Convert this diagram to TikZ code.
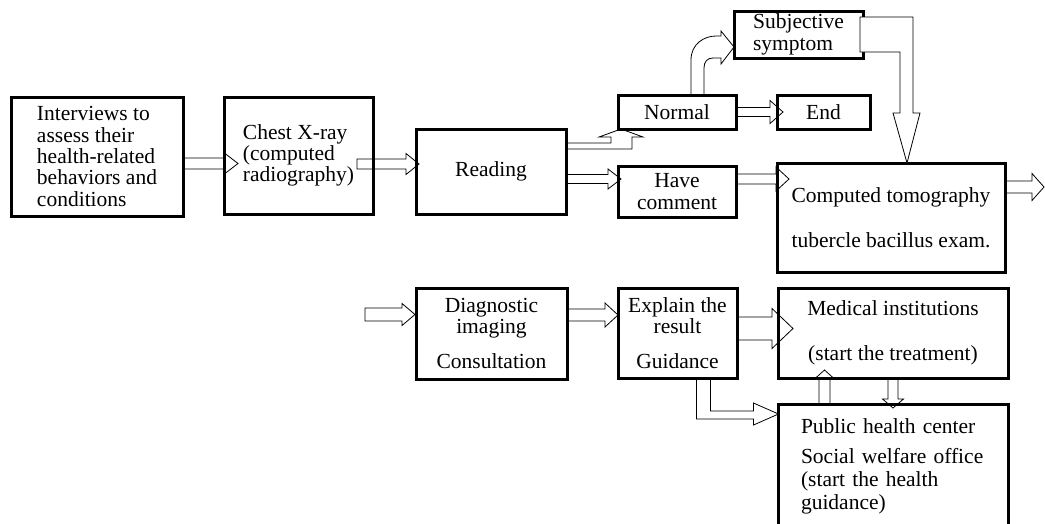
\documentclass[tikz,border=0pt]{standalone}
\usepackage{fontspec}
\setmainfont{Liberation Serif}
\usepackage{tikz}
\usetikzlibrary{positioning,calc,backgrounds}
\tikzstyle{box} = [rectangle, draw, black, line width=3pt, inner sep=2pt, outer sep=0pt,
align=center, font=\fontsize{21.5}{21.3}\selectfont]
\tikzstyle{hollow} = [draw, black, fill=white, line width=0.8pt, line join=miter]
% straight hollow arrows: start, length, half shaft, half head, head length
\newcommand{\blockh}[5]{\draw[hollow] #1 ++(0,-#3) -- ++({(#2)-(#5)},0) -- ++(0,{(#3)-(#4)}) -- ++(#5,#4) -- ++({-(#5)},#4) -- ++(0,{(#3)-(#4)}) -- ++({(#5)-(#2)},0) -- cycle;}
\newcommand{\blockv}[5]{\draw[hollow] #1 ++(-#3,0) -- ++(0,{(#2)-(#5)}) -- ++({(#3)-(#4)},0) -- ++(#4,#5) -- ++(#4,{-(#5)}) -- ++({(#3)-(#4)},0) -- ++(0,{(#5)-(#2)}) -- cycle;}

\begin{document}
\begin{tikzpicture}[x=1pt, y=-1pt]
	\useasboundingbox (0,0) rectangle (1045,523);
	\node[box, align=left, minimum width=172, minimum height=119, anchor=north west] (interview) at (11,97) {Interviews to\\assess their\\health-related\\behaviors and\\conditions};
	\node[box, align=left, minimum width=149, minimum height=117, right=41pt of interview.north east, anchor=north west] (xray) {Chest X-ray\\(computed\\radiography)};
	\node[box, minimum width=150, minimum height=85, right=43pt of xray.south east, anchor=south west] (reading) {Reading};
	\node[box, minimum width=118, minimum height=34, right=52pt of reading.north east, anchor=south west] (normal) {Normal};
	\node[box, minimum width=93, minimum height=34, right=41pt of normal] (finish) {End};
	\node[box, align=left, minimum width=129, minimum height=47, above=37pt of normal.north east, anchor=south west, xshift=-2pt] (subj) {Subjective\\symptom};
	\node[box, minimum width=118, minimum height=51, below=37pt of normal.south west, anchor=north west] (comment) {Have\\comment};
	\node[box, minimum width=228, minimum height=109, below=34pt of finish.south west, anchor=north west] (ct) {Computed tomography\\[23.5pt]tubercle bacillus exam.};

	\node[box, minimum width=151, minimum height=91, below=74pt of reading.south west, anchor=north west] (diag) {Diagnostic\\imaging\hspace*{18pt}\\[14pt]Consultation};
	\node[box, minimum width=119, minimum height=90, right=51pt of diag.north east, anchor=north west] (explain) {Explain the\\result\\[14pt]Guidance};
	\node[box, minimum width=230, minimum height=90, right=41pt of explain.north east, anchor=north west] (medical) {Medical institutions\\[23.5pt](start the treatment)};
	\node[box, align=left, text width=184pt, inner xsep=23pt, inner ysep=15pt, text depth=150pt, below=26pt of medical.south west, anchor=north west] (public) {Public health center\\[8.7pt]\mbox{Social welfare office}\\[1.7pt](start the health\\[1.7pt]guidance)};
	\coordinate (inlet) at ($(diag.west)+(-51,-19)$);

	\begin{pgfonlayer}{background}
	\blockh{($(interview.east)+(0,7)$)}{55}{5.5}{10}{13}
	\blockh{($(xray.east)+(-16,8.5)$)}{62}{5}{10.5}{13}
	\blockh{($(reading.east)+(0,7.5)$)}{55}{4.5}{10}{13}
	\blockh{($(comment.east)+(0,-12.5)$)}{53}{5}{12}{13}
	\blockh{(normal.east)}{47}{4.5}{11.5}{13}
	\blockh{($(ct.east)+(0,-30.5)$)}{39}{6}{13.5}{12}
	\blockh{(inlet)}{50}{6.5}{11}{13}
	\blockh{($(diag.east)+(0,-18.5)$)}{51}{6}{12}{13}
	\blockh{($(explain.east)+(0,-4.5)$)}{56}{11.5}{20}{21}
	\blockv{($(public.north west)+(46.5,0)$)}{-34}{5.5}{10}{-9}
	\blockv{(medical.south)}{30}{5}{10.5}{9}
	% bent arrows
	\draw[hollow] ($(reading.north east)+(0,14)$) -- ++(45,0) -- ++(0,-6) -- ++(-12,0) -- ++(22,-8) -- ++(22,8) -- ++(-11,0) -- ++(0,12) -- ++(-66,0) -- cycle;
	\draw[hollow] ($(normal.north)+(14,0)$) -- ++(0,-35) .. controls +(0,-16) and +(-12,0) .. ++(25,-24) -- ++(5,0) -- ++(0,-5) -- ++(13,16) -- ++(-13,17) -- ++(0,-6) -- ++(-8,0) .. controls +(-6,0) and +(0,-6) .. ++(-9,10) -- ++(0,27) -- cycle;
	\draw[hollow] ($(explain.south)+(19,0)$) -- ++(0,41) -- ++(57,0) -- ++(0,6) -- ++(25,-11) -- ++(-25,-11) -- ++(0,8) -- ++(-43,0) -- ++(0,-33) -- cycle;
	\end{pgfonlayer}
	\draw[hollow] ($(subj.north east)+(-3,6)$) -- ++(53,0) -- ++(0,96) -- ++(7,0) -- ++(-13,50) -- ++(-14,-50) -- ++(7,0) -- ++(0,-61) -- ++(-40,0) -- cycle;
\end{tikzpicture}
\end{document}
